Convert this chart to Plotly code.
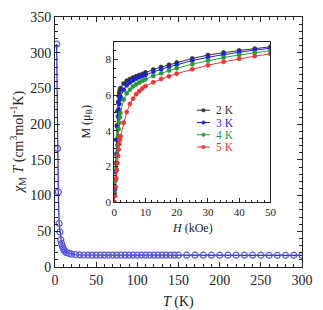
import plotly.graph_objects as go

# Main: chi_M T vs T
T = [2, 3, 4, 5, 6, 7, 8, 9, 10, 11, 12, 14, 17, 20, 25, 30, 35, 40, 45, 50, 55, 60, 65, 70, 75,
     80, 85, 90, 95, 100, 105, 110, 115, 120, 125, 130, 135, 140, 145, 150,
     160, 170, 180, 190, 200, 210, 220, 230, 240, 250, 260, 270, 280, 290, 300]
chiT = [312, 166, 105, 61, 49, 38, 33, 29, 26, 24, 22, 20, 19, 18, 17.4, 17.0, 16.8, 16.7, 16.6, 16.6,
        16.5, 16.5, 16.5, 16.5, 16.5, 16.5, 16.5, 16.5, 16.5, 16.5, 16.5, 16.5, 16.5, 16.5, 16.5,
        16.5, 16.5, 16.5, 16.5, 16.5, 16.5, 16.5, 16.5, 16.5, 16.5, 16.5, 16.5, 16.5, 16.5, 16.5,
        16.4, 16.4, 16.4, 16.4, 16.4]

# Inset: M vs H
H = [0, 0.2, 0.4, 0.6, 0.8, 1.0, 1.2, 1.4, 1.6, 1.8, 2.0, 3, 4, 5, 6, 7, 8, 9, 10,
     12.5, 15, 17.5, 20, 25, 30, 35, 40, 45, 50]
M2 = [0, 0.9, 2.2, 3.5, 4.3, 5.1, 5.6, 5.95, 6.15, 6.3, 6.4, 6.65, 6.8, 6.9, 6.98, 7.05, 7.12, 7.18, 7.27,
      7.43, 7.57, 7.7, 7.82, 8.05, 8.24, 8.38, 8.5, 8.6, 8.7]
M3 = [0, 0.7, 1.7, 2.7, 3.5, 4.2, 4.8, 5.2, 5.5, 5.75, 5.9, 6.3, 6.55, 6.7, 6.82, 6.92, 7.0, 7.07, 7.13,
      7.3, 7.45, 7.58, 7.7, 7.93, 8.12, 8.28, 8.4, 8.52, 8.62]
M4 = [0, 0.5, 1.2, 1.9, 2.6, 3.2, 3.7, 4.1, 4.45, 4.75, 5.0, 5.75, 6.1, 6.3, 6.48, 6.6, 6.7, 6.8, 6.88,
      7.07, 7.22, 7.37, 7.5, 7.73, 7.93, 8.1, 8.25, 8.37, 8.48]
M5 = [0, 0.35, 0.85, 1.35, 1.8, 2.2, 2.6, 2.95, 3.25, 3.5, 3.7, 4.45, 5.05, 5.5, 5.8, 6.05, 6.22, 6.37, 6.5,
      6.72, 6.9, 7.05, 7.2, 7.45, 7.67, 7.86, 8.03, 8.18, 8.31]
series_names = ["2 K", "3 K", "4 K", "5 K"]
series_colors = ["#333333", "#1f1fe0", "#2a9a3a", "#ee3333"]

FONT = "Liberation Serif, Times New Roman, serif"
INK = "#222222"

fig = go.Figure()
fig.add_trace(go.Scatter(
    x=T, y=chiT, mode="lines+markers", showlegend=False,
    line=dict(color="#2a2ad0", width=1.2),
    marker=dict(symbol="circle-open", size=6, color="#5555d8", line=dict(width=1.2)),
    xaxis="x", yaxis="y"))

for name, col, M in zip(series_names, series_colors, [M2, M3, M4, M5]):
    fig.add_trace(go.Scatter(
        x=H, y=M, mode="lines+markers", name=name, showlegend=False,
        line=dict(color=col, width=1),
        marker=dict(symbol="circle", size=4, color=col, line=dict(width=0.8, color=col)),
        xaxis="x2", yaxis="y2"))

axis_common = dict(showline=True, linecolor=INK, linewidth=1, showgrid=False, zeroline=False,
                   ticks="inside", tickcolor=INK)

fig.update_layout(
    width=323, height=310,
    margin=dict(l=55, r=10, t=12, b=43),
    paper_bgcolor="white", plot_bgcolor="white",
    font=dict(family=FONT, color=INK, size=13),
    showlegend=False,
    xaxis=dict(**axis_common, domain=[0, 1], range=[0, 300], dtick=50, mirror="ticks",
               ticklen=5, minor=dict(dtick=10, ticks="inside", ticklen=3, tickcolor=INK),
               tickfont=dict(size=14)),
    yaxis=dict(**axis_common, domain=[0, 1], range=[0, 350], dtick=50, mirror="ticks",
               ticklen=5, minor=dict(dtick=10, ticks="inside", ticklen=3, tickcolor=INK),
               tickfont=dict(size=14)),
    xaxis2=dict(**axis_common, domain=[0.240, 0.872], anchor="y2", range=[0, 50], dtick=10,
                mirror=True, ticklen=4,
                minor=dict(dtick=2, ticks="inside", ticklen=2, tickcolor=INK),
                tickfont=dict(size=11)),
    yaxis2=dict(**axis_common, domain=[0.259, 0.902], anchor="x2", range=[0, 9], dtick=2,
                mirror=True, ticklen=4,
                minor=dict(dtick=0.5, ticks="inside", ticklen=2, tickcolor=INK),
                tickfont=dict(size=11)),
)

# axis titles
fig.add_annotation(text="<i>T</i> (K)", xref="paper", yref="paper", x=0.5, y=-0.141,
                   xanchor="center", yanchor="middle", showarrow=False, font=dict(size=14))
fig.add_annotation(text="<i>χ</i><sub>M</sub> <i>T</i> (cm<sup>3</sup>mol<sup>-1</sup>K)",
                   xref="paper", yref="paper", x=-0.150, y=0.5, textangle=-90,
                   xanchor="center", yanchor="middle", showarrow=False, font=dict(size=14))
fig.add_annotation(text="<i>H</i> (kOe)", xref="paper", yref="paper", x=0.556, y=0.158,
                   xanchor="center", yanchor="middle", showarrow=False, font=dict(size=12))
fig.add_annotation(text="M (μ<sub>B</sub>)", xref="paper", yref="paper", x=0.128, y=0.58,
                   textangle=-90, xanchor="center", yanchor="middle", showarrow=False,
                   font=dict(size=12))

# compact legend drawn inside the inset
leg_x0, leg_x1, leg_tx = 0.574, 0.628, 0.645
leg_y = [0.627, 0.578, 0.529, 0.480]
for name, col, yy in zip(series_names, series_colors, leg_y):
    fig.add_shape(type="line", xref="paper", yref="paper", x0=leg_x0, x1=leg_x1, y0=yy, y1=yy,
                  line=dict(color=col, width=1))
    xm = (leg_x0 + leg_x1) / 2
    fig.add_shape(type="circle", xref="paper", yref="paper",
                  x0=xm - 0.0065, x1=xm + 0.0065, y0=yy - 0.0065, y1=yy + 0.0065,
                  line=dict(color=col, width=0.8), fillcolor=col)
    fig.add_annotation(text=name, xref="paper", yref="paper", x=leg_tx, y=yy,
                       xanchor="left", yanchor="middle", showarrow=False, height=12,
                       font=dict(size=11.5, color=col))

fig.write_html("out.html")
